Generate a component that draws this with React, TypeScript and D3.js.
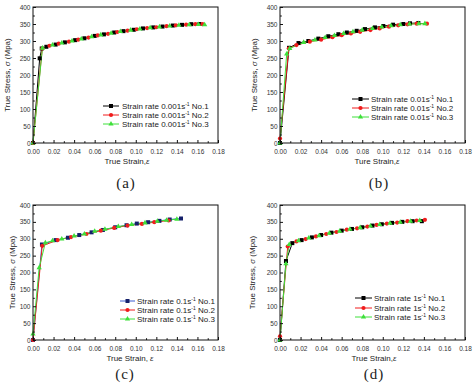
import * as d3 from "d3";
import { useEffect, useRef } from "react";

// values: strain (-) and true stress (MPa)
// (a) 0.001 s^-1
const strainA1 = [0, 0.0065, 0.0085, 0.013, 0.022, 0.031, 0.041, 0.05, 0.06, 0.069, 0.079, 0.088, 0.098, 0.107, 0.117, 0.126, 0.136, 0.145, 0.154, 0.162];
const stressA1 = [0, 249, 278, 283, 289.5, 296, 302.5, 308, 315, 319.5, 325, 329, 333, 337, 340, 342.5, 345.5, 347.5, 349.5, 350];
const strainA2 = [0, 0.009, 0.016, 0.025, 0.035, 0.044, 0.054, 0.063, 0.073, 0.082, 0.092, 0.101, 0.111, 0.12, 0.13, 0.139, 0.149, 0.158, 0.165];
const stressA2 = [0, 278, 286, 292, 298, 304, 310, 316.5, 321, 326.5, 330.5, 334.5, 338, 340.5, 343.5, 346, 348, 349.5, 349.5];
const strainA3 = [0, 0.0092, 0.019, 0.028, 0.038, 0.047, 0.057, 0.066, 0.076, 0.085, 0.095, 0.104, 0.114, 0.123, 0.133, 0.142, 0.152, 0.161, 0.167];
const stressA3 = [0, 279, 288, 294, 300, 306, 312.5, 318, 323, 328, 332, 335.5, 339, 341.5, 344, 346.5, 348, 348.5, 348];

// (b) 0.01 s^-1
const strainB1 = [0, 0.0088, 0.018, 0.0276, 0.0373, 0.047, 0.0568, 0.065, 0.0746, 0.0827, 0.0924, 0.1005, 0.11, 0.12, 0.1265, 0.1346];
const stressB1 = [0, 280, 294, 300, 307, 314, 320, 325, 330, 335, 340, 344, 348, 350, 352, 353];
const strainB2 = [0, 0.0085, 0.016, 0.029, 0.04, 0.051, 0.06, 0.069, 0.078, 0.088, 0.097, 0.106, 0.115, 0.124, 0.133, 0.143];
const stressB2 = [13, 278, 288, 298, 304, 311, 317, 322, 327, 332, 337, 342, 346, 349, 351, 351];
const strainB3 = [0, 0.0065, 0.0095, 0.023, 0.034, 0.044, 0.053, 0.062, 0.071, 0.08, 0.09, 0.099, 0.108, 0.117, 0.126, 0.135, 0.141];
const stressB3 = [0, 262, 278, 296, 303, 310, 316, 322, 327, 332, 337, 341, 345, 348, 350, 351, 351];

// (c) 0.1 s^-1
const strainC1 = [0, 0.0087, 0.022, 0.034, 0.045, 0.057, 0.068, 0.08, 0.091, 0.101, 0.112, 0.123, 0.133, 0.144];
const stressC1 = [0, 283, 296, 303, 311, 319, 326, 334, 340, 345, 349, 353, 357, 360];
const strainC2 = [0, 0.009, 0.024, 0.037, 0.052, 0.066, 0.079, 0.092, 0.106, 0.118, 0.132];
const stressC2 = [0, 279, 296, 305, 314, 324, 332, 339, 344, 349, 354];
const strainC3 = [0, 0.006, 0.012, 0.019, 0.028, 0.04, 0.05, 0.06, 0.07, 0.083, 0.096, 0.109, 0.121, 0.13, 0.14];
const stressC3 = [18, 214, 288, 294, 299, 308, 314, 322, 328, 336, 342, 347, 352, 355, 358];

// (d) 1 s^-1
const strainD1 = [0, 0.0058, 0.012, 0.021, 0.031, 0.04, 0.05, 0.06, 0.07, 0.08, 0.09, 0.099, 0.109, 0.119, 0.129, 0.138];
const stressD1 = [0, 234, 287, 296, 304, 311, 318, 324, 329, 334, 339, 343, 347, 350, 352, 352];
const strainD2 = [0, 0.0075, 0.016, 0.025, 0.035, 0.045, 0.055, 0.065, 0.075, 0.085, 0.094, 0.104, 0.114, 0.124, 0.133, 0.141];
const stressD2 = [11, 277, 292, 299, 307, 314, 320, 327, 331, 336, 341, 345, 348, 352, 354, 356];
const strainD3 = [0, 0.0058, 0.009, 0.018, 0.028, 0.038, 0.048, 0.058, 0.068, 0.078, 0.088, 0.097, 0.107, 0.117, 0.127, 0.136];
const stressD3 = [0, 226, 283, 294, 302, 309, 316, 322, 328, 333, 338, 342, 346, 349, 352, 354];

const xTicks = [0, 0.02, 0.04, 0.06, 0.08, 0.1, 0.12, 0.14, 0.16, 0.18];
const xMinor = [0.01, 0.03, 0.05, 0.07, 0.09, 0.11, 0.13, 0.15, 0.17];
const yTicks = [0, 50, 100, 150, 200, 250, 300, 350, 400];
const yMinor = [25, 75, 125, 175, 225, 275, 325, 375];

const sampleNames = ["No.1", "No.2", "No.3"];
const rates = ["0.001", "0.01", "0.1", "1"];
const xTitles = ["True Strain,", "Ture Strain,", "True Strain, ", "True Strain,"];
const panelTags = ["(a)", "(b)", "(c)", "(d)"];

const W = 474;
const H = 385;

const BLACK = "#000000";
const RED = "#f01c1c";
const GREEN = "#3ee03a";

const panels = [
  {
    box: { l: 33, r: 218, t: 7, b: 143 },
    yTitleX: 7, xTitleX: 127, tagX: 126, tagY: 188,
    legend: { x0: 103, x1: 119, tx: 122, ys: [106, 115, 124] },
    series: [
      { x: strainA1, y: stressA1, line: BLACK, fill: BLACK, shape: "square" },
      { x: strainA2, y: stressA2, line: RED, fill: RED, shape: "circle" },
      { x: strainA3, y: stressA3, line: GREEN, fill: GREEN, shape: "triangle" },
    ],
  },
  {
    box: { l: 280, r: 465, t: 7, b: 143 },
    yTitleX: 254, xTitleX: 377, tagX: 379, tagY: 188,
    legend: { x0: 352, x1: 369, tx: 371, ys: [99, 108, 117] },
    series: [
      { x: strainB1, y: stressB1, line: BLACK, fill: BLACK, shape: "square" },
      { x: strainB2, y: stressB2, line: RED, fill: RED, shape: "circle" },
      { x: strainB3, y: stressB3, line: GREEN, fill: GREEN, shape: "triangle" },
    ],
  },
  {
    box: { l: 33, r: 218, t: 205, b: 340 },
    yTitleX: 12, xTitleX: 130, tagX: 125, tagY: 379,
    legend: { x0: 120, x1: 135, tx: 137, ys: [301, 310, 319] },
    series: [
      { x: strainC1, y: stressC1, line: "#3a5ad0", fill: "#15206a", shape: "square" },
      { x: strainC2, y: stressC2, line: RED, fill: RED, shape: "circle" },
      { x: strainC3, y: stressC3, line: GREEN, fill: GREEN, shape: "triangle" },
    ],
  },
  {
    box: { l: 280, r: 465, t: 205, b: 340 },
    yTitleX: 252, xTitleX: 374, tagX: 374, tagY: 379,
    legend: { x0: 355, x1: 372, tx: 374, ys: [298, 308, 317] },
    series: [
      { x: strainD1, y: stressD1, line: BLACK, fill: BLACK, shape: "square" },
      { x: strainD2, y: stressD2, line: RED, fill: RED, shape: "circle" },
      { x: strainD3, y: stressD3, line: GREEN, fill: GREEN, shape: "triangle" },
    ],
  },
];

const FONT = "'Liberation Sans', Arial, sans-serif";

const drawMarker = (g, shape, cx, cy, color) => {
  if (shape === "square") {
    g.append("rect").attr("x", cx - 2).attr("y", cy - 2).attr("width", 4).attr("height", 4).attr("fill", color);
  } else if (shape === "circle") {
    g.append("circle").attr("cx", cx).attr("cy", cy).attr("r", 2.1).attr("fill", color);
  } else {
    const tri = d3.symbol().type(d3.symbolTriangle).size(12);
    g.append("path").attr("transform", `translate(${cx},${cy})`).attr("d", tri()).attr("fill", color);
  }
};

const App = () => {
  const svgRef = useRef(null);

  useEffect(() => {
    const svg = d3.select(svgRef.current);
    svg.selectAll("*").remove();

    panels.forEach((p, pi) => {
      const { l, r, t, b } = p.box;
      const x = d3.scaleLinear().domain([0, 0.18]).range([l, r]);
      const y = d3.scaleLinear().domain([0, 400]).range([b, t]);
      const g = svg.append("g");

      // curves
      const line = d3.line().x((d) => x(d[0])).y((d) => y(d[1]));
      p.series.forEach((s) => {
        const pts = s.x.map((v, i) => [v, s.y[i]]);
        g.append("path").datum(pts).attr("fill", "none").attr("stroke", s.line).attr("stroke-width", 1).attr("d", line);
      });
      p.series.forEach((s) => {
        s.x.forEach((v, i) => drawMarker(g, s.shape, x(v), y(s.y[i]), s.fill));
      });

      // frame
      g.append("rect")
        .attr("x", l).attr("y", t).attr("width", r - l).attr("height", b - t)
        .attr("fill", "none").attr("stroke", "#111").attr("stroke-width", 1);

      // axes with inward ticks
      const xAxis = g.append("g").attr("transform", `translate(0,${b})`)
        .call(d3.axisBottom(x).tickValues(xTicks).tickSize(-3).tickPadding(6).tickFormat(d3.format(".2f")));
      g.append("g").attr("transform", `translate(0,${b})`)
        .call(d3.axisBottom(x).tickValues(xMinor).tickSize(-1.8).tickFormat(() => ""));
      const yAxis = g.append("g").attr("transform", `translate(${l},0)`)
        .call(d3.axisLeft(y).tickValues(yTicks).tickSize(-3).tickPadding(2.5));
      g.append("g").attr("transform", `translate(${l},0)`)
        .call(d3.axisLeft(y).tickValues(yMinor).tickSize(-1.8).tickFormat(() => ""));
      g.selectAll(".domain").remove();
      g.selectAll(".tick line").attr("stroke", "#111");
      [xAxis, yAxis].forEach((a) =>
        a.selectAll("text").attr("font-family", FONT).attr("font-size", 6.5).attr("fill", "#333")
      );

      // axis titles
      const yt = g.append("text")
        .attr("transform", `translate(${p.yTitleX + 3},${(t + b) / 2}) rotate(-90)`)
        .attr("text-anchor", "middle").attr("font-family", FONT).attr("font-size", 8).attr("fill", "#222");
      yt.append("tspan").text("True Stress, ");
      yt.append("tspan").attr("font-style", "italic").text("σ");
      yt.append("tspan").text(" (Mpa)");

      const xt = g.append("text")
        .attr("x", p.xTitleX).attr("y", b + 21)
        .attr("text-anchor", "middle").attr("font-family", FONT).attr("font-size", 8).attr("fill", "#222");
      xt.append("tspan").text(xTitles[pi]);
      xt.append("tspan").attr("font-style", "italic").text("ε");

      // panel tag
      g.append("text")
        .attr("x", p.tagX).attr("y", p.tagY)
        .attr("text-anchor", "middle").attr("font-family", "'Liberation Serif', 'Times New Roman', serif")
        .attr("font-size", 15).attr("letter-spacing", 1).attr("fill", "#222")
        .text(panelTags[pi]);

      // legend
      const lg = p.legend;
      p.series.forEach((s, si) => {
        const ly = lg.ys[si];
        g.append("line").attr("x1", lg.x0).attr("x2", lg.x1).attr("y1", ly).attr("y2", ly)
          .attr("stroke", s.line).attr("stroke-width", 1);
        drawMarker(g, s.shape, (lg.x0 + lg.x1) / 2, ly, s.fill);
        const tx = g.append("text").attr("x", lg.tx).attr("y", ly + 3)
          .attr("font-family", FONT).attr("font-size", 8).attr("fill", "#222");
        tx.append("tspan").text(`Strain rate ${rates[pi]}s`);
        tx.append("tspan").attr("font-size", 5).attr("dy", -3).text("-1");
        tx.append("tspan").attr("dy", 3).text(` ${sampleNames[si]}`);
      });
    });
  }, []);

  return (
    <svg
      ref={svgRef}
      width={W}
      height={H}
      style={{ position: "absolute", left: 0, top: 0, background: "#fff" }}
    />
  );
};

export default App;
